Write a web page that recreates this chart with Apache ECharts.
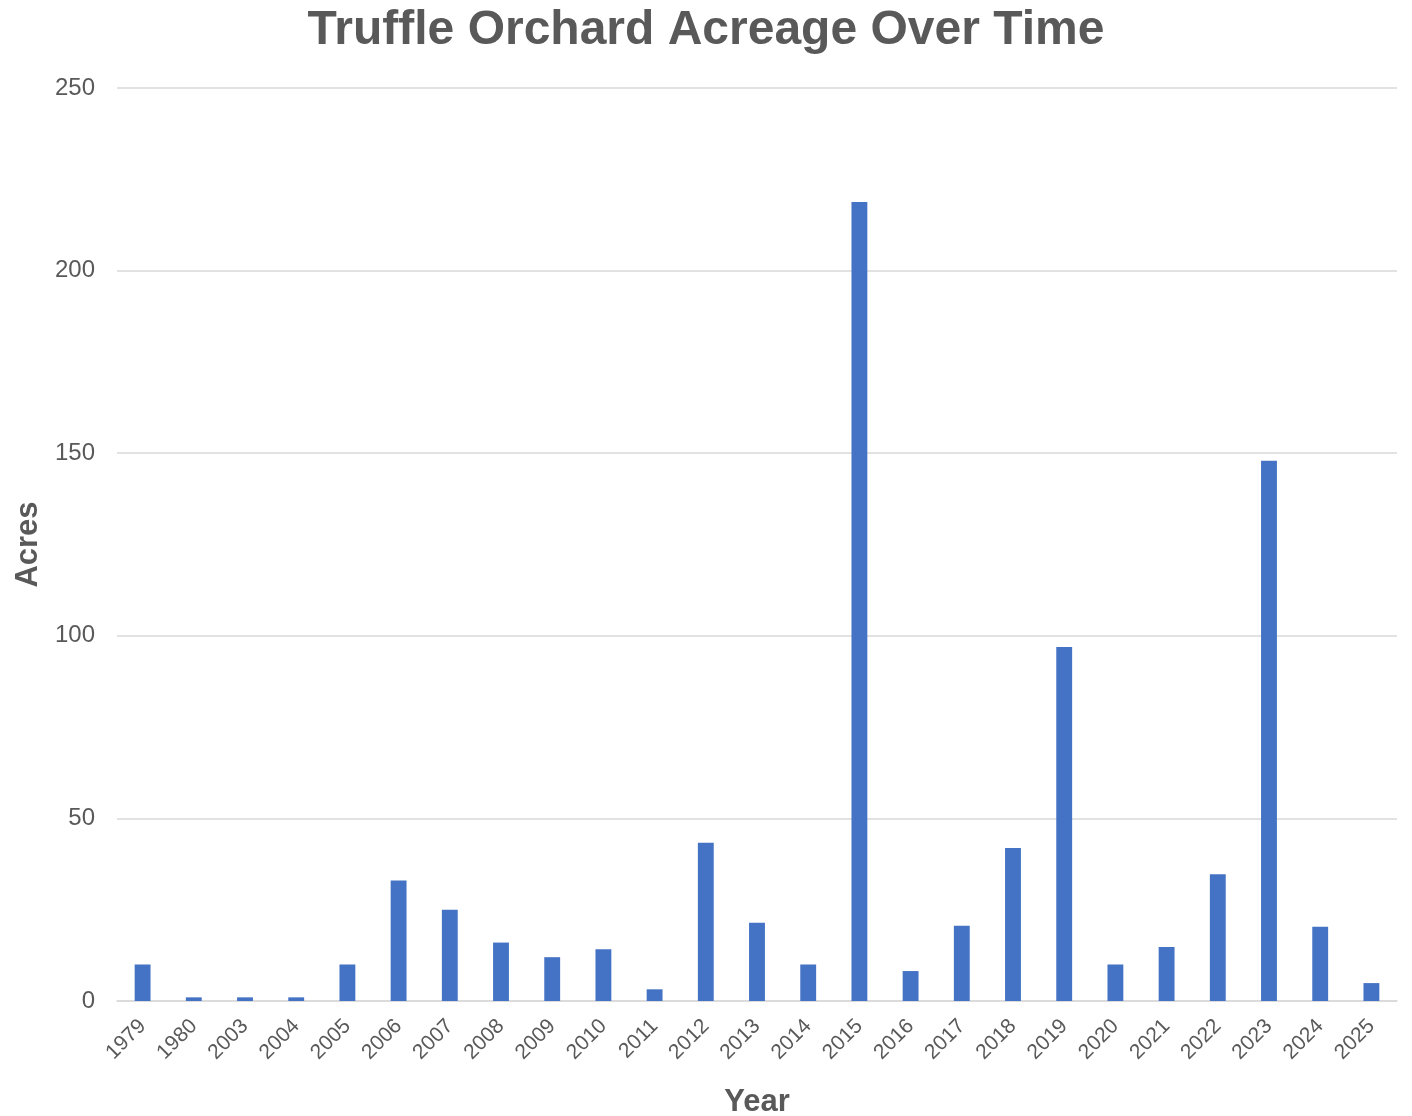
<!DOCTYPE html>
<html>
<head>
<meta charset="utf-8">
<script src="https://cdn.jsdelivr.net/npm/echarts@6/dist/echarts.min.js"></script>
<style>
  html, body { margin: 0; padding: 0; background: #fff; }
  #eChart { width: 1412px; height: 1116px; }
</style>
</head>
<body>
<div id="eChart"></div>
<script>
var years = ['1979', '1980', '2003', '2004', '2005', '2006', '2007', '2008', '2009', '2010',
  '2011', '2012', '2013', '2014', '2015', '2016', '2017', '2018', '2019', '2020',
  '2021', '2022', '2023', '2024', '2025'];
var acres = [10, 1, 1, 1, 10, 33, 25, 16, 12, 14.2,
  3.2, 43.3, 21.4, 10, 218.8, 8.2, 20.6, 41.9, 96.9, 10,
  14.8, 34.7, 147.9, 20.3, 4.9];
var yTicks = [0, 50, 100, 150, 200, 250];

var font = '"Liberation Sans", Arial, sans-serif';
var grey = '#595959';

var myChart = echarts.init(document.getElementById('eChart'));
var option = {
  animation: false,
  title: {
    text: 'Truffle Orchard Acreage Over Time',
    left: 'center',
    top: 2,
    textStyle: { fontFamily: font, fontSize: 48, fontWeight: 'bold', color: grey }
  },
  grid: {
    left: 117,
    right: 15,
    top: 88,
    bottom: 115,
    outerBoundsMode: 'none',
    containLabel: false
  },
  xAxis: {
    type: 'category',
    data: years,
    name: 'Year',
    nameLocation: 'middle',
    nameGap: 86,
    nameTextStyle: { fontFamily: font, fontSize: 31, fontWeight: 'bold', color: grey },
    axisTick: { show: false },
    axisLine: { lineStyle: { color: '#d9d9d9', width: 1.5 } },
    axisLabel: {
      rotate: 45,
      interval: 0,
      fontFamily: font,
      fontSize: 21,
      color: grey,
      margin: 22
    }
  },
  yAxis: {
    type: 'value',
    min: yTicks[0],
    max: yTicks[yTicks.length - 1],
    interval: 50,
    name: 'Acres',
    nameLocation: 'middle',
    nameGap: 70,
    nameTextStyle: { fontFamily: font, fontSize: 31, fontWeight: 'bold', color: grey },
    axisLine: { show: false },
    axisTick: { show: false },
    splitLine: { lineStyle: { color: '#d9d9d9', width: 1.5 } },
    axisLabel: { fontFamily: font, fontSize: 24, color: grey, margin: 22 }
  },
  series: [
    {
      name: 'Acres',
      type: 'bar',
      data: acres,
      barWidth: '31%',
      itemStyle: { color: '#4472c4' }
    }
  ]
};
myChart.setOption(option);
</script>
</body>
</html>
